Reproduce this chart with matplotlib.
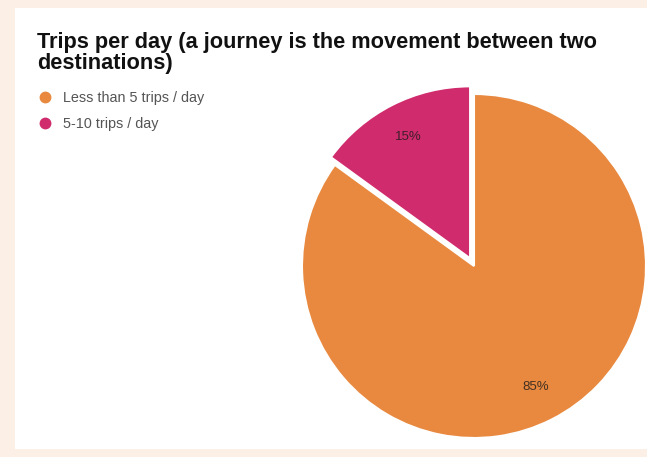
import matplotlib
matplotlib.use("Agg")
import matplotlib.pyplot as plt
from matplotlib.patches import Rectangle
from matplotlib.lines import Line2D

categories = ["Less than 5 trips / day", "5-10 trips / day"]
values = [85, 15]
colors = ["#E8893F", "#D02B6D"]
title = "Trips per day (a journey is the movement between two\ndestinations)"

plt.rcParams['font.family'] = ['Liberation Sans', 'DejaVu Sans']

W, H = 647, 457
fig = plt.figure(figsize=(W / 100, H / 100), dpi=100)
fig.patch.set_facecolor("#FCF0E6")

# white panel
fig.add_artist(Rectangle((15 / W, (H - 449) / H), (W - 15) / W, (449 - 8) / H,
                         transform=fig.transFigure, facecolor="white",
                         edgecolor="none", zorder=0))

# pie axes: center (474, 266) px, radius 172 px
cx, cy, r = 474, 266, 172
ax = fig.add_axes([(cx - r) / W, (H - cy - r) / H, 2 * r / W, 2 * r / H])
wedges, texts, autotexts = ax.pie(
    values, colors=colors, startangle=90, counterclock=False,
    explode=[0, 0.05], autopct="%d%%", pctdistance=0.79,
    wedgeprops=dict(edgecolor="white", linewidth=1.5),
    textprops=dict(fontsize=9.5, color="#1a1a1a", alpha=0.8))
ax.set_xlim(-1, 1)
ax.set_ylim(-1, 1)
ax.set_aspect("equal")
ax.axis("off")

fig.text(37 / W, (H - 32) / H, title, fontsize=15.7, fontweight="bold",
         color="#111111", va="top", ha="left", linespacing=1.0)

handles = [Line2D([], [], marker="o", linestyle="none", markersize=7.5,
                  markerfacecolor=c, markeredgecolor=c) for c in colors]
fig.legend(handles, categories, loc="upper left",
           bbox_to_anchor=(32 / W, (H - 85) / H), frameon=False,
           fontsize=10.4, labelcolor="#555555", handletextpad=0.75,
           labelspacing=0.82, handlelength=1.0, borderaxespad=0)

fig.savefig("out.png", dpi=100, facecolor=fig.get_facecolor())
